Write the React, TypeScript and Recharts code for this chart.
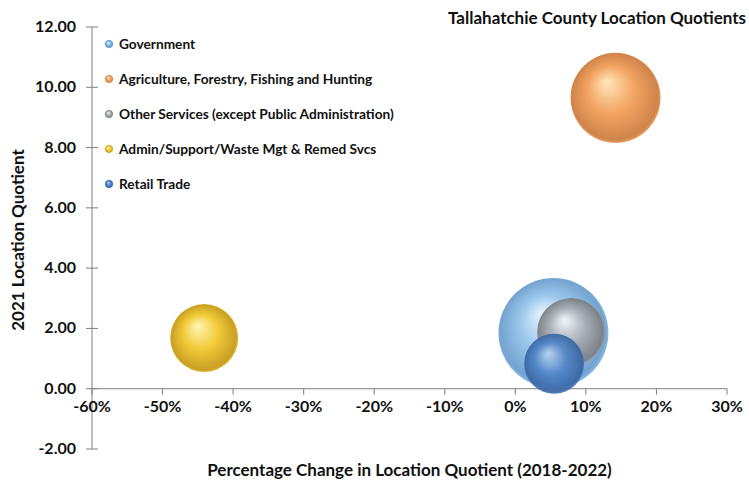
import { ScatterChart, Scatter, XAxis, YAxis, ZAxis, ReferenceLine, Legend } from 'recharts'

// industries, in legend order
const industries = [
  'Government',
  'Agriculture, Forestry, Fishing and Hunting',
  'Other Services (except Public Administration)',
  'Admin/Support/Waste Mgt & Remed Svcs',
  'Retail Trade',
]
// % change in LQ 2018-2022 (as fraction)
const lqChange = [0.054, 0.142, 0.079, -0.441, 0.055]
// 2021 location quotient
const lq2021 = [1.85, 9.65, 1.88, 1.68, 0.83]
// bubble size (relative employment)
const bubbleSize = [1210, 810, 462, 462, 360]

const xTicks = [-0.6, -0.5, -0.4, -0.3, -0.2, -0.1, 0, 0.1, 0.2, 0.3]
const yTicks = [-2, 0, 2, 4, 6, 8, 10, 12]

const W = 749
const H = 485
const M = { top: 27, right: 22, bottom: 26, left: 82 }
const AX_W = 10
const AX_H = 10
const Y_MIN = -2
const Y_MAX = 12
const plotH = H - M.top - M.bottom - AX_H
// distance from bottom of plot up to the y=0 line (x axis crosses at 0)
const zeroShift = (plotH * (0 - Y_MIN)) / (Y_MAX - Y_MIN)

const FONT = 'Lato, "Open Sans", sans-serif'
const AXIS = '#808080'
const TEXT = '#111'

// sphere colours: [highlight, base, edge]
const sphere = [
  ['#e6f4fe', '#86bce8', '#5c93c8'],
  ['#ffe8bc', '#f3a462', '#cf844a'],
  ['#f4f8fa', '#a9aeb3', '#7b8085'],
  ['#fff7b4', '#f1ca38', '#c9a024'],
  ['#bcd9f6', '#5286c9', '#3765a2'],
]
const opac = [0.85, 1, 0.95, 1, 0.92]

const data = industries.map((name, i) => [{ name, x: lqChange[i], y: lq2021[i], z: bubbleSize[i] }])

const Ball = (props: any) => {
  const { cx, cy, width, idx } = props
  const r = width / 2
  return <circle cx={cx} cy={cy} r={r} fill={`url(#sph${idx})`} fillOpacity={opac[idx]} />
}

const XTick = ({ x, y, payload }: any) => {
  const y0 = y - zeroShift
  return (
    <g>
      <line x1={x} x2={x} y1={y0} y2={y0 + 6} stroke={AXIS} />
      <text x={x} y={y0 + 23} textAnchor="middle" fontFamily={FONT} fontWeight={700} fontSize={16} fill={TEXT}>
        {Math.round(payload.value * 100) + '%'}
      </text>
    </g>
  )
}

const YTick = ({ x, y, payload }: any) => (
  <g>
    <line x1={x - 6} x2={x + 6} y1={y} y2={y} stroke={AXIS} />
    <text x={x - 16} y={y + 5} textAnchor="end" fontFamily={FONT} fontWeight={700} fontSize={16} fill={TEXT}>
      {payload.value.toFixed(2)}
    </text>
  </g>
)

const LegendBox = () => (
  <div style={{ fontFamily: FONT, fontWeight: 700, fontSize: 13.7, color: TEXT }}>
    {industries.map((n, i) => (
      <div key={n} style={{ height: 35, display: 'flex', alignItems: 'center', whiteSpace: 'nowrap' }}>
        <svg width={12} height={12} style={{ marginRight: 3 }}>
          <circle cx={5} cy={6} r={4} fill={`url(#sph${i})`} />
        </svg>
        {n}
      </div>
    ))}
  </div>
)

export default function App() {
  return (
    <div style={{ position: 'absolute', left: 0, top: 0, width: W, height: H, background: '#fff' }}>
      <ScatterChart width={W} height={H} margin={M}>
        <defs>
          {sphere.map((c, i) => (
            <radialGradient key={i} id={`sph${i}`} cx="50%" cy="50%" r="52%" fx="40%" fy="32%">
              <stop offset="0%" stopColor={c[0]} />
              <stop offset="50%" stopColor={c[1]} />
              <stop offset="92%" stopColor={c[2]} />
              <stop offset="100%" stopColor={c[1]} />
            </radialGradient>
          ))}
        </defs>
        <XAxis
          type="number"
          dataKey="x"
          domain={[-0.6, 0.3]}
          ticks={xTicks}
          interval={0}
          height={AX_H}
          axisLine={false}
          tickLine={false}
          tickSize={0}
          tickMargin={0}
          tick={<XTick />}
        />
        <YAxis
          type="number"
          dataKey="y"
          domain={[Y_MIN, Y_MAX]}
          ticks={yTicks}
          interval={0}
          width={AX_W}
          axisLine={{ stroke: AXIS }}
          tickLine={false}
          tickSize={0}
          tickMargin={0}
          tick={<YTick />}
        />
        <ZAxis type="number" dataKey="z" domain={[0, 1210]} range={[0, Math.PI * 55 * 55]} />
        <ReferenceLine y={0} stroke={AXIS} />
        {data.map((d, i) => (
          <Scatter
            key={industries[i]}
            name={industries[i]}
            data={d}
            isAnimationActive={false}
            shape={(p: any) => <Ball {...p} idx={i} />}
          />
        ))}
        <Legend
          layout="vertical"
          align="center"
          verticalAlign="middle"
          wrapperStyle={{ left: 104, top: 26, width: 340 }}
          content={<LegendBox />}
        />
      </ScatterChart>
      <div
        style={{
          position: 'absolute',
          right: 3,
          top: 7,
          fontFamily: FONT,
          fontWeight: 700,
          fontSize: 17,
          color: TEXT,
          whiteSpace: 'nowrap',
        }}
      >
        Tallahatchie County Location Quotients
      </div>
      <div
        style={{
          position: 'absolute',
          left: 0,
          width: W,
          top: 459,
          paddingLeft: 70,
          boxSizing: 'border-box',
          textAlign: 'center',
          fontFamily: FONT,
          fontWeight: 700,
          fontSize: 17,
          color: TEXT,
        }}
      >
        Percentage Change in Location Quotient (2018-2022)
      </div>
      <div
        style={{
          position: 'absolute',
          left: 17,
          top: 240,
          transform: 'translate(-50%, -50%) rotate(-90deg)',
          fontFamily: FONT,
          fontWeight: 700,
          fontSize: 17,
          color: TEXT,
          whiteSpace: 'nowrap',
        }}
      >
        2021 Location Quotient
      </div>
    </div>
  )
}
